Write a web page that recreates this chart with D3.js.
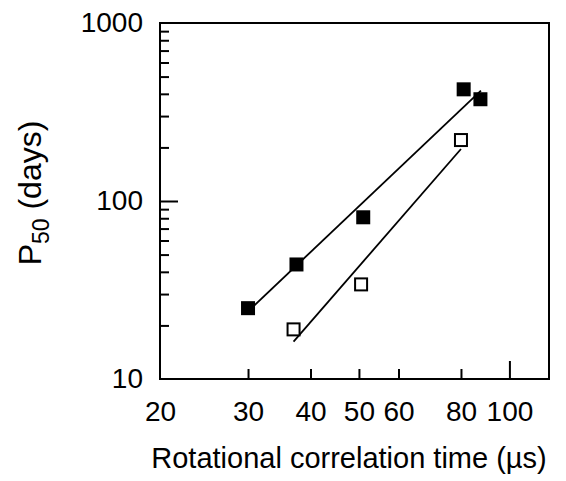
<!DOCTYPE html>
<html>
<head>
<meta charset="utf-8">
<script src="https://cdn.jsdelivr.net/npm/d3@7"></script>
<style>
  html, body { margin: 0; padding: 0; background: #fff; }
  svg { display: block; }
  text { font-family: "Liberation Sans", Arial, Helvetica, sans-serif; fill: #000; }
</style>
</head>
<body>
<svg id="chart" width="566" height="481"></svg>
<script>
// ---- data ----
const filledX = [30, 37.5, 51, 81, 87.5];
const filledY = [25, 44, 81, 424, 373];
const openX = [37, 50.5, 80];
const openY = [19, 34, 220];
const fitFilledX = [30.7, 87.7];
const fitFilledY = [25.5, 417];
const fitOpenX = [37, 80];
const fitOpenY = [16.2, 196];
const xTickLabels = [20, 30, 40, 50, 60, 80, 100];
const xMinorTicks = [30, 40, 50, 60, 80];
const xMajorTicks = [100];
const yTickLabels = [10, 100, 1000];
const yMinorTicks = [20, 30, 40, 50, 60, 70, 80, 90, 200, 300, 400, 500, 600, 700, 800, 900];
const yMajorTicks = [100];

// ---- layout ----
const L = 160, R = 549, T = 23, B = 379;
const svg = d3.select("#chart");
const x = d3.scaleLog().domain([20, 120]).range([L, R]);
const y = d3.scaleLog().domain([10, 1000]).range([B, T]);

function styleAxis(g) {
  g.select(".domain").remove();
  g.selectAll(".tick line").attr("stroke", "#000").attr("stroke-width", 2);
  g.selectAll(".tick text").attr("font-size", 28).attr("fill", "#000");
}

// x ticks
svg.append("g").attr("transform", `translate(0,${B})`)
  .call(d3.axisBottom(x).tickValues(xMinorTicks).tickSize(-10).tickFormat(""))
  .call(styleAxis);
svg.append("g").attr("transform", `translate(0,${B})`)
  .call(d3.axisBottom(x).tickValues(xMajorTicks).tickSize(-18).tickFormat(""))
  .call(styleAxis);
svg.append("g").attr("transform", `translate(0,${B})`)
  .call(d3.axisBottom(x).tickValues(xTickLabels).tickSize(0).tickPadding(22).tickFormat(d3.format("d")))
  .call(styleAxis);

// y ticks
svg.append("g").attr("transform", `translate(${L},0)`)
  .call(d3.axisLeft(y).tickValues(yMinorTicks).tickSize(-9).tickFormat(""))
  .call(styleAxis);
svg.append("g").attr("transform", `translate(${L},0)`)
  .call(d3.axisLeft(y).tickValues(yMajorTicks).tickSize(-18).tickFormat(""))
  .call(styleAxis);
svg.append("g").attr("transform", `translate(${L},0)`)
  .call(d3.axisLeft(y).tickValues(yTickLabels).tickSize(0).tickPadding(17).tickFormat(d3.format("d")))
  .call(styleAxis);

// frame
svg.append("rect").attr("x", L).attr("y", T).attr("width", R - L).attr("height", B - T)
  .attr("fill", "none").attr("stroke", "#000").attr("stroke-width", 2);

// fit lines
const line = d3.line().x(d => x(d[0])).y(d => y(d[1]));
svg.append("path").datum(d3.zip(fitFilledX, fitFilledY)).attr("d", line)
  .attr("fill", "none").attr("stroke", "#000").attr("stroke-width", 1.8);
svg.append("path").datum(d3.zip(fitOpenX, fitOpenY)).attr("d", line)
  .attr("fill", "none").attr("stroke", "#000").attr("stroke-width", 1.8);

// markers
const fs = 14, os = 12;
svg.append("g").selectAll("rect").data(d3.zip(filledX, filledY)).join("rect")
  .attr("x", d => x(d[0]) - fs / 2).attr("y", d => y(d[1]) - fs / 2)
  .attr("width", fs).attr("height", fs).attr("fill", "#000");
svg.append("g").selectAll("rect").data(d3.zip(openX, openY)).join("rect")
  .attr("x", d => x(d[0]) - os / 2).attr("y", d => y(d[1]) - os / 2)
  .attr("width", os).attr("height", os).attr("fill", "#fff")
  .attr("stroke", "#000").attr("stroke-width", 2);

// axis titles
svg.append("text").attr("x", 349).attr("y", 468).attr("text-anchor", "middle")
  .attr("font-size", 29).text("Rotational correlation time (µs)");

const yt = svg.append("text").attr("transform", "translate(41,193) rotate(-90)")
  .attr("text-anchor", "middle").attr("font-size", 32);
yt.append("tspan").text("P");
yt.append("tspan").attr("font-size", 23).attr("dy", 8).text("50");
yt.append("tspan").attr("dy", -8).text(" (days)");
</script>
</body>
</html>
